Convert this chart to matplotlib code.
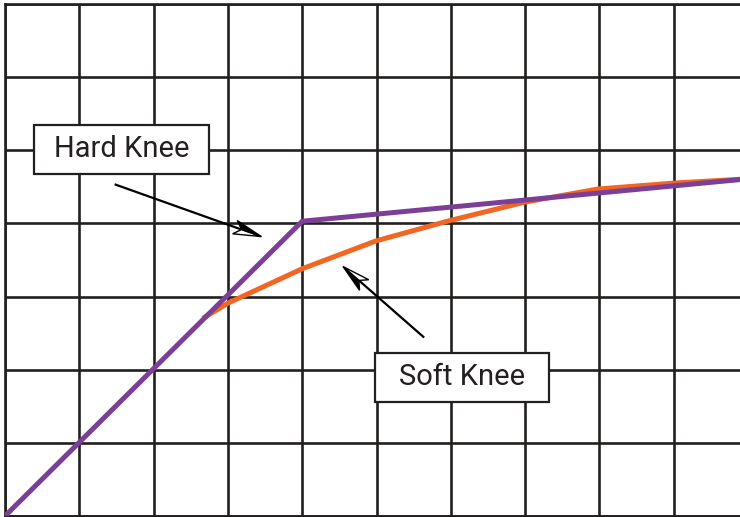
import numpy as np
import matplotlib.pyplot as plt
from matplotlib.patches import Rectangle, Polygon

# Knee curves, in grid units (one grid cell = 1)
hard_x = [0, 4.0, 10.0]
hard_y = [0, 4.03, 4.61]

soft_x = [2.69, 3.0, 4.0, 4.99, 5.99, 6.99, 7.98, 8.98, 10.0]
soft_y = [2.72, 2.91, 3.38, 3.76, 4.04, 4.29, 4.47, 4.55, 4.61]

labels = ["Hard Knee", "Soft Knee"]

ink = "#231f20"
purple = "#7b3f98"
orange = "#f26522"

fig = plt.figure(figsize=(7.4, 5.17), dpi=100)
W, H = 740, 517
# axes spans grid from x=5px to 748px (right edge falls off the canvas)
ax = fig.add_axes([5 / W, 1 / H, 743 / W, 512 / H])
ax.set_xlim(0, 10)
ax.set_ylim(0, 7)
ax.set_xticks(range(11))
ax.set_yticks(range(8))
ax.tick_params(length=0, labelbottom=False, labelleft=False)
ax.grid(True, color=ink, linewidth=1.9)
ax.set_axisbelow(True)
for s in ax.spines.values():
    s.set_color(ink)
    s.set_linewidth(1.9)

ax.plot(soft_x, soft_y, color=orange, linewidth=3.6, solid_joinstyle="round", zorder=3)
ax.plot(hard_x, hard_y, color=purple, linewidth=3.6, solid_joinstyle="miter", zorder=4)

# label boxes: (x0, y0, w, h) in grid units, and arrow start/end
boxes = [(0.39, 4.68, 2.36, 0.67), (4.98, 1.56, 2.34, 0.67)]
arrows = [((1.49, 4.53), (3.45, 3.82)), ((5.63, 2.45), (4.55, 3.41))]


def draw_arrow(start, tip, head_len=28, half_w=7, notch=0.75):
    # work in pixels so the head keeps its shape
    to_px = ax.transData.transform
    to_data = ax.transData.inverted().transform
    p0, p1 = to_px(start), to_px(tip)
    d = (p1 - p0) / np.hypot(*(p1 - p0))
    n = np.array([-d[1], d[0]])
    back = p1 - head_len * d
    left = back + half_w * n
    right = back - half_w * n
    mid = p1 - notch * head_len * d
    ax.plot(*zip(start, to_data(mid)), color="black", linewidth=1.6, zorder=6)
    ax.add_patch(Polygon(to_data([p1, mid, right]), closed=True, facecolor="white",
                         edgecolor="black", linewidth=1.0, zorder=6))
    ax.add_patch(Polygon(to_data([p1, left, mid]), closed=True, facecolor="black",
                         edgecolor="black", linewidth=1.0, zorder=7))


for text, (bx, by, bw, bh), (start, tip) in zip(labels, boxes, arrows):
    ax.add_patch(Rectangle((bx, by), bw, bh, facecolor="white", edgecolor=ink,
                           linewidth=1.6, zorder=5))
    ax.text(bx + bw / 2, by + bh / 2, text, ha="center", va="center",
            fontsize=21, family="Roboto", color=ink, zorder=6)
    draw_arrow(start, tip)

fig.savefig("out.png", dpi=100)
